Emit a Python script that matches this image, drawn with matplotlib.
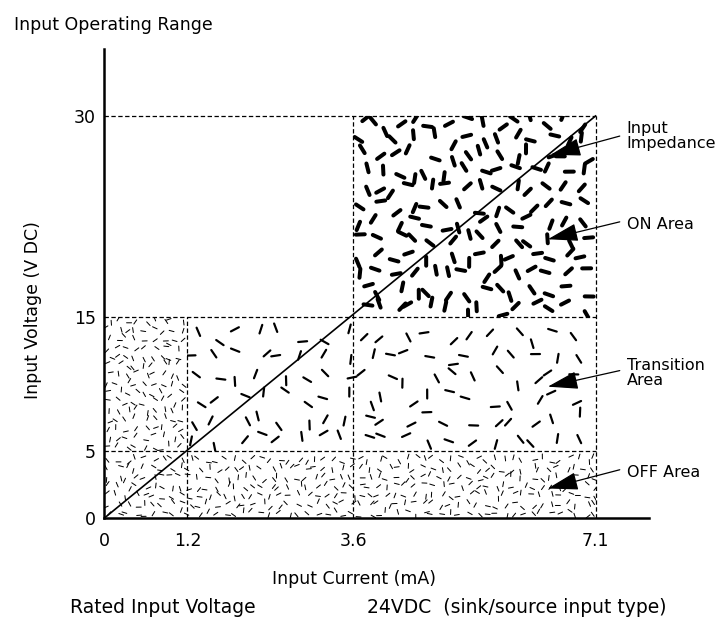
import numpy as np
import matplotlib
matplotlib.use("Agg")
import matplotlib.pyplot as plt
from matplotlib.collections import LineCollection
from matplotlib.patches import Rectangle

plt.rcParams['font.family'] = ['DejaVu Sans']

# data
x_ticks = [0, 1.2, 3.6, 7.1]
y_ticks = [0, 5, 15, 30]
off_v, on_v, max_v = 5, 15, 30          # V DC
off_i, on_i, max_i = 1.2, 3.6, 7.1      # mA
impedance_i = [0, 7.1]
impedance_v = [0, 30]

labels = ['Input\nImpedance', 'ON Area', 'Transition\nArea', 'OFF Area']
label_y = [28.5, 21.9, 10.8, 3.4]
arrow_tip = [(6.45, 27.1), (6.41, 20.8), (6.41, 9.8), (6.41, 2.2)]
arrow_tail = [(7.45, 28.5), (7.45, 22.1), (7.45, 11.0), (7.45, 3.6)]

DPI = 100
fig = plt.figure(figsize=(7.2, 6.41), dpi=DPI)
ax = fig.add_axes([0.1451, 0.1919, 0.756, 0.7317])
ax.set_xlim(0, 7.87)
ax.set_ylim(0, 35)

ppx = 720 * 0.756 / 7.87     # pixels per mA
ppy = 641 * 0.7317 / 35      # pixels per volt


def texture(x0, x1, y0, y1, step, length, lw, seed):
    # decorative random-dash fill of a region (sizes in pixels)
    rng = np.random.default_rng(seed)
    px0, px1, py0, py1 = x0 * ppx, x1 * ppx, y0 * ppy, y1 * ppy
    xs = np.arange(px0 + step / 2, px1, step)
    ys = np.arange(py0 + step / 2, py1, step)
    gx, gy = np.meshgrid(xs, ys)
    gx = gx + rng.uniform(-0.4, 0.4, gx.shape) * step
    gy = gy + rng.uniform(-0.4, 0.4, gy.shape) * step
    ang = rng.uniform(0, np.pi, gx.shape)
    dx = np.cos(ang) * length / 2
    dy = np.sin(ang) * length / 2
    a = np.stack([(gx - dx) / ppx, (gy - dy) / ppy], -1).reshape(-1, 2)
    b = np.stack([(gx + dx) / ppx, (gy + dy) / ppy], -1).reshape(-1, 2)
    segs = np.stack([a, b], 1)
    lc = LineCollection(segs, colors='black', linewidths=lw * 72 / DPI,
                        capstyle='round', zorder=1)
    ax.add_collection(lc)
    clip = Rectangle((x0, y0), x1 - x0, y1 - y0, transform=ax.transData,
                     facecolor='none', edgecolor='none')
    ax.add_patch(clip)
    lc.set_clip_path(clip)


texture(0, max_i, 0, off_v, 9, 5, 1.0, 1)
texture(0, off_i, off_v, on_v, 9, 5, 1.0, 2)
texture(off_i, max_i, off_v, on_v, 21, 9, 2.2, 3)
texture(on_i, max_i, on_v, max_v, 17, 9, 4.0, 4)

# region borders
dash = dict(color='black', lw=0.9, linestyle=(0, (3.5, 2)), zorder=2)
for v in [off_v, on_v, max_v]:
    ax.plot([0, max_i], [v, v], **dash)
ax.plot([off_i, off_i], [0, on_v], **dash)
ax.plot([on_i, on_i], [0, max_v], **dash)
ax.plot([max_i, max_i], [0, max_v], **dash)

ax.plot(impedance_i, impedance_v, color='black', lw=1.2, zorder=3)

for lab, ly, tip, tail in zip(labels, label_y, arrow_tip, arrow_tail):
    ax.annotate('', xy=tip, xytext=tail,
                arrowprops=dict(arrowstyle='-|>,head_length=0.95,head_width=0.28',
                                color='black', lw=0.9, shrinkA=0, shrinkB=0,
                                mutation_scale=20), zorder=4)
    ax.text(7.55, ly, lab, ha='left', va='center', fontsize=11.5,
            linespacing=1.0, clip_on=False)

for s in ['top', 'right']:
    ax.spines[s].set_visible(False)
for s in ['left', 'bottom']:
    ax.spines[s].set_linewidth(1.8)

ax.set_xticks(x_ticks)
ax.set_xticklabels([str(t) for t in x_ticks])
ax.set_yticks(y_ticks)
ax.set_yticklabels([str(t) for t in y_ticks])
ax.tick_params(length=0, labelsize=12.5)
ax.tick_params(axis='x', pad=10)
ax.tick_params(axis='y', pad=6)

ax.set_xlabel('Input Current (mA)', fontsize=12.5)
ax.xaxis.set_label_coords(0.458, -0.11)
ax.set_ylabel('Input Voltage (V DC)', fontsize=12.5)
ax.yaxis.set_label_coords(-0.115, 0.443)

fig.text(0.019, 0.961, 'Input Operating Range', fontsize=12.5, va='center')
fig.text(0.097, 0.053, 'Rated Input Voltage', fontsize=13.5, va='center')
fig.text(0.51, 0.053, '24VDC  (sink/source input type)', fontsize=13.5, va='center')

fig.savefig('out.png', dpi=DPI)
